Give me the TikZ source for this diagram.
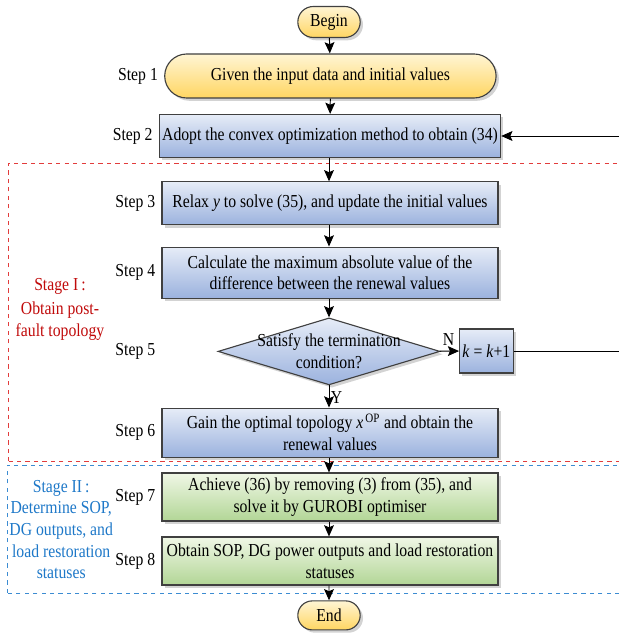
\documentclass[tikz,border=0pt]{standalone}
\usepackage{fontspec}
\setmainfont{Liberation Serif}[FakeStretch=0.86]
\usetikzlibrary{positioning,shapes.geometric,shapes.misc,shadows,arrows.meta}

\definecolor{ytop}{RGB}{255,245,212}
\definecolor{ybot}{RGB}{255,214,98}
\definecolor{btop}{RGB}{230,236,247}
\definecolor{bbot}{RGB}{155,178,222}
\definecolor{gtop}{RGB}{240,247,230}
\definecolor{gbot}{RGB}{178,214,150}
\definecolor{stred}{RGB}{192,10,10}
\definecolor{dashred}{RGB}{226,60,60}
\definecolor{stblue}{RGB}{30,120,200}
\definecolor{dashblue}{RGB}{60,140,210}

\begin{document}
\begin{tikzpicture}[font=\fontsize{13}{15.4}\selectfont,
  base/.style={draw=black!75, line width=0.8pt, align=center, inner sep=2pt,
    drop shadow={shadow xshift=2pt, shadow yshift=-2pt, opacity=0.35}},
  term/.style={base, rounded rectangle, top color=ytop, bottom color=ybot},
  bluebox/.style={base, rectangle, top color=btop, bottom color=bbot,
    minimum width=8.4cm},
  greenbox/.style={base, rectangle, top color=gtop, bottom color=gbot,
    minimum width=8.4cm},
  decide/.style={base, diamond, aspect=3.3, inner sep=-5pt, top color=btop, bottom color=bbot},
  steplab/.style={inner sep=0pt},
  flow/.style={-{Stealth[length=8pt,width=7pt,inset=1.5pt]}, line width=0.7pt, black},
  stage1/.style={dashed, draw=dashred, line width=0.7pt},
  stage2/.style={dashed, draw=dashblue, line width=0.7pt}]

  \clip (0,0) rectangle (15.475,15.875);

  % terminals and process boxes (main column)
  \node[term, minimum width=1.7cm, minimum height=0.775cm] (begin) at (8.225,15.325) {Begin};
  \node[term, minimum width=8.425cm, minimum height=1.1cm] (s1) at (8.26,13.975) {Given the input data and initial values};
  \node[bluebox, minimum height=1.075cm] (s2) at (8.25,12.475) {Adopt the convex optimization method to obtain (34)};
  \node[bluebox, minimum height=1.075cm] (s3) at (8.25,10.79) {Relax \textit{y} to solve (35), and update the initial values};
  \node[bluebox, minimum height=1.275cm] (s4) at (8.25,9.06) {Calculate the maximum absolute value of the\\difference between the renewal values};
  \node[decide, minimum width=5.55cm, minimum height=1.675cm] (d5) at (8.225,7.09) {Satisfy the termination\\condition?};
  \node[bluebox, minimum width=1.325cm, minimum height=1.1cm] (kk) at (12.16,7.1) {\textit{k} = \textit{k}+1};
  \node[bluebox, minimum height=1.225cm] (s6) at (8.25,5.06) {Gain the optimal topology \textit{x}\textsuperscript{\,OP} and obtain the\\renewal values};
  \node[greenbox, minimum height=1.2cm] (s7) at (8.25,3.45) {Achieve (36) by removing (3) from (35), and\\solve it by GUROBI optimiser};
  \node[greenbox, minimum height=1.2cm] (s8) at (8.25,1.85) {Obtain SOP, DG power outputs and load restoration\\statuses};
  \node[term, minimum width=1.7cm, minimum height=0.725cm] (end) at (8.225,0.49) {End};

  % step labels
  \node[steplab, left=0.15cm of s1] {Step 1};
  \node[steplab, left=0.15cm of s2] {Step 2};
  \node[steplab, left=0.15cm of s3] {Step 3};
  \node[steplab, left=0.15cm of s4] {Step 4};
  \node[steplab, anchor=east] at ([xshift=-0.15cm]s4.west |- d5) {Step 5};
  \node[steplab, left=0.15cm of s6] {Step 6};
  \node[steplab, left=0.15cm of s7] {Step 7};
  \node[steplab, left=0.15cm of s8] {Step 8};

  % stage frames
  \draw[stage1] (0.2,4.34) rectangle (15.7,11.78);
  \draw[stage2] (0.175,1.05) rectangle (15.7,4.25);
  \node[stred, align=center] (st1) at (1.5,8.15) {Stage I\,:\\[2pt]Obtain post-\\fault topology};
  \node[stblue, align=center] (st2) at (1.53,2.64) {Stage II\,:\\Determine SOP,\\DG outputs, and\\load restoration\\statuses};

  % connectors
  \draw[flow] (begin) -- (s1);
  \draw[flow] (s1) -- (s2);
  \draw[flow] (s2.south -| begin) -- (s3.north -| begin);
  \draw[flow] (s3.south -| begin) -- (s4.north -| begin);
  \draw[flow] (s4.south -| d5) -- (d5);
  \draw[flow] (d5) -- node[pos=0, above right, inner sep=1pt, xshift=1pt, yshift=3pt] {N} (kk);
  \draw[flow] (d5) -- node[right, inner sep=1pt, yshift=-1pt] {Y} (s6.north -| d5);
  \draw[flow] (s6.south -| d5) -- (s7.north -| d5);
  \draw[flow] (s7.south -| d5) -- (s8.north -| d5);
  \draw[flow] (s8.south -| d5) -- (end);
  % loop back to step 2 (vertical part lies beyond the frame)
  \draw[flow] (kk.east) -- ++(4,0) |- (s2.east);
\end{tikzpicture}
\end{document}
